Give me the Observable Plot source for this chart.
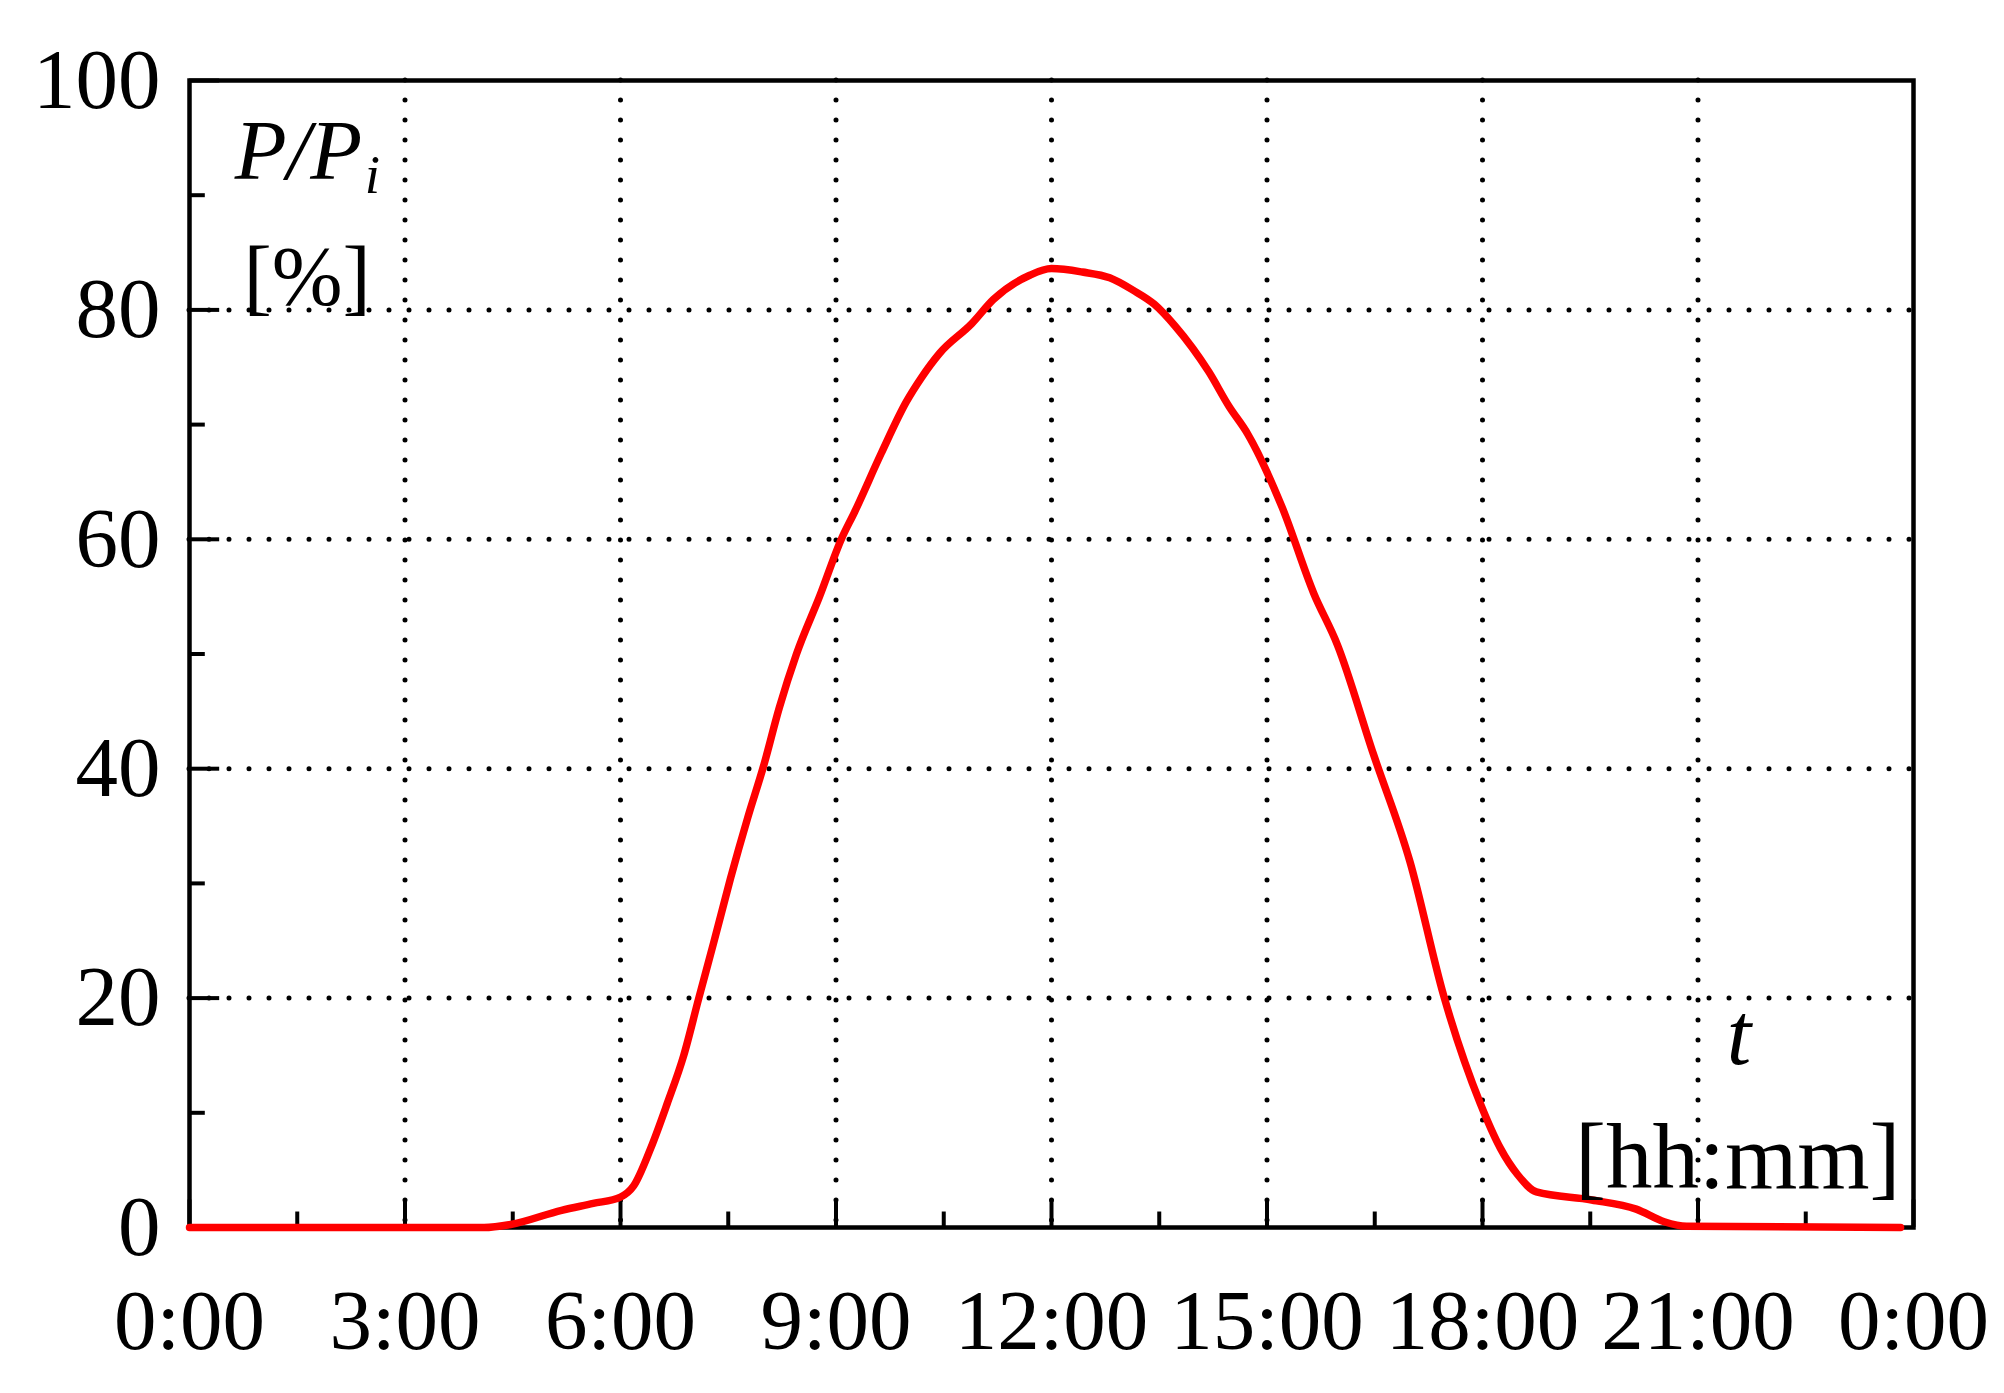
<!DOCTYPE html>
<html>
<head>
<meta charset="utf-8">
<script src="https://cdn.jsdelivr.net/npm/d3@7"></script>
<script src="https://cdn.jsdelivr.net/npm/@observablehq/plot@0.6"></script>
<style>
  html, body { margin: 0; padding: 0; background: #fff; }
</style>
</head>
<body>
<div id="chart"></div>
<script>
// Time of day (hours) and relative power P/Pi (%)
const hours = [0, 4.1, 4.47, 5.18, 5.62, 6.0, 6.18, 6.42, 6.65, 6.88, 7.09, 7.30, 7.53, 7.77, 7.99, 8.21, 8.45, 8.77, 9.08, 9.26, 9.63, 9.98, 10.19, 10.44, 10.89, 11.19, 11.69, 12.0, 12.43, 12.81, 13.14, 13.43, 13.72, 14.19, 14.47, 14.73, 15.21, 15.65, 15.98, 16.48, 16.99, 17.46, 17.97, 18.25, 18.49, 18.75, 19.52, 20.14, 20.53, 20.84, 23.82];
const power = [0, 0, 0.26, 1.5, 2.1, 2.65, 3.6, 6.9, 10.8, 15.0, 20.0, 24.9, 30.4, 35.7, 40.2, 45.3, 50.0, 55.0, 60.1, 62.4, 67.5, 72.0, 74.1, 76.2, 78.8, 80.9, 83.0, 83.6, 83.3, 82.8, 81.7, 80.5, 78.6, 74.6, 71.6, 69.2, 62.8, 55.3, 50.8, 41.3, 31.9, 20.2, 10.8, 6.9, 4.6, 3.1, 2.4, 1.6, 0.5, 0.1, 0];

const xTicks = [0, 3, 6, 9, 12, 15, 18, 21, 24];
const xMinor = [1.5, 4.5, 7.5, 10.5, 13.5, 16.5, 19.5, 22.5];
const xGrid = [3, 6, 9, 12, 15, 18, 21];
const yTicks = [0, 20, 40, 60, 80, 100];
const yMinor = [10, 30, 50, 70, 90];
const yGrid = [20, 40, 60, 80];

const yLabel = "P/P";
const yLabelSub = "i";
const yUnit = "[%]";
const xLabel = "t";
const xUnit = "[hh:mm]";

const data = hours.map((h, i) => ({h, p: power[i]}));

const dotted = {stroke: "black", strokeOpacity: 1, strokeWidth: 5, strokeDasharray: "0,20", strokeLinecap: "round"};
const serif = "'Liberation Serif', 'DejaVu Serif', serif";

const chart = Plot.plot({
  width: 2004,
  height: 1393,
  marginLeft: 189,
  marginRight: 91,
  marginTop: 80,
  marginBottom: 166,
  style: {fontFamily: serif, fontSize: "85px", background: "white", color: "black"},
  x: {domain: [0, 24]},
  y: {domain: [0, 100]},
  marks: [
    Plot.gridX(xGrid, dotted),
    Plot.gridY(yGrid, dotted),
    Plot.ruleX(xTicks, {x: d => d, y1: 0, y2: 2.4, stroke: "black", strokeWidth: 4}),
    Plot.ruleX(xMinor, {x: d => d, y1: 0, y2: 1.35, stroke: "black", strokeWidth: 4}),
    Plot.ruleY(yTicks, {y: d => d, x1: 0, x2: 0.42, stroke: "black", strokeWidth: 4}),
    Plot.ruleY(yMinor, {y: d => d, x1: 0, x2: 0.22, stroke: "black", strokeWidth: 4}),
    Plot.frame({stroke: "black", strokeWidth: 4.5}),
    Plot.line(data, {x: "h", y: "p", stroke: "#ff0000", strokeWidth: 7.5, curve: "monotone-x", strokeLinecap: "round", strokeLinejoin: "round"}),
    Plot.axisX(xTicks, {tickSize: 0, tickPadding: 61, fontSize: 85, label: null, tickFormat: d => `${d % 24}:00`}),
    Plot.axisY(yTicks, {tickSize: 0, tickPadding: 29, fontSize: 85, label: null}),
    Plot.text([yLabel], {x: 0.63, y: 93.8, text: d => d, textAnchor: "start", fontStyle: "italic", fontSize: 85}),
    Plot.text([yLabelSub], {x: 2.44, y: 91.7, text: d => d, textAnchor: "start", fontStyle: "italic", fontSize: 55}),
    Plot.text([yUnit], {x: 0.75, y: 82.8, text: d => d, textAnchor: "start", fontSize: 85}),
    Plot.text([xLabel], {x: 21.57, y: 16.7, text: d => d, textAnchor: "middle", fontStyle: "italic", fontSize: 88}),
    Plot.text([xUnit], {x: 23.82, y: 6.0, text: d => d, textAnchor: "end", fontSize: 93})
  ]
});

document.getElementById("chart").appendChild(chart);
</script>
</body>
</html>
